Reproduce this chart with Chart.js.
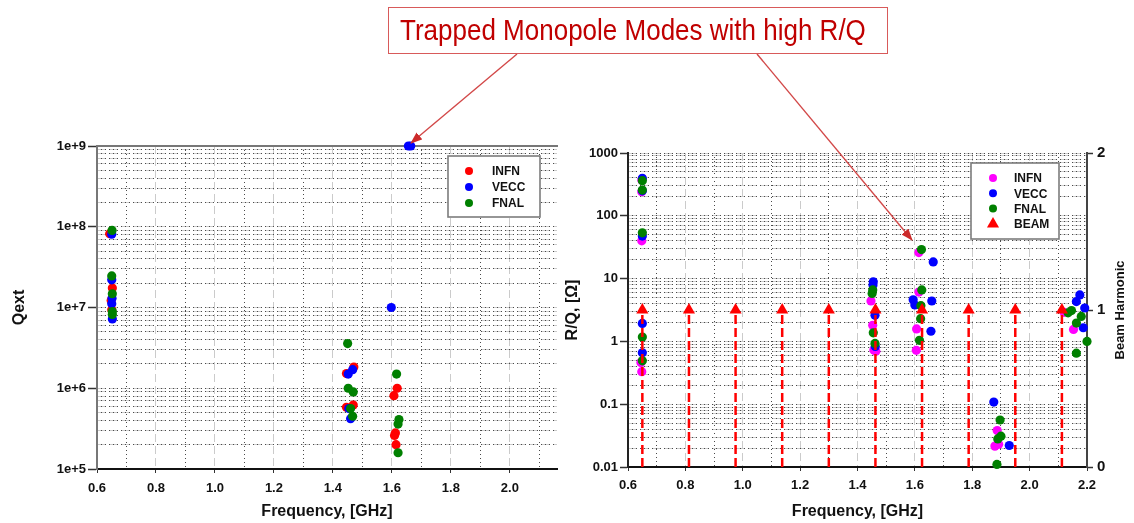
<!DOCTYPE html>
<html>
<head>
<meta charset="utf-8">
<script src="https://cdn.jsdelivr.net/npm/chart.js@4.4.1/dist/chart.umd.min.js"></script>
<style>
  html, body { margin: 0; padding: 0; background: #fff; }
  body { width: 1134px; height: 523px; position: relative; overflow: hidden;
         font-family: "Liberation Sans", Arial, sans-serif; }
  canvas { position: absolute; top: 0; }
  #qextChart { left: 0; }
  #rqChart { left: 555px; }
  .callout { position: absolute; left: 388px; top: 7px; width: 500px; height: 47px;
             box-sizing: border-box; border: 1.5px solid #d85a5a; background: #fff;
             color: #c00000; font-size: 26px; line-height: 44px; padding-left: 11px;
             white-space: nowrap; z-index: 3; }
  .callout span { display: inline-block; transform: scaleY(1.13); transform-origin: 50% 60%; }
  svg.arrows { position: absolute; left: 0; top: 0; z-index: 2; pointer-events: none; }
</style>
</head>
<body>
<canvas id="qextChart" width="575" height="523"></canvas>
<canvas id="rqChart" width="579" height="523"></canvas>
<div class="callout"><span>Trapped Monopole Modes with high R/Q</span></div>
<svg class="arrows" width="1134" height="523">
  <defs>
    <marker id="head" markerWidth="12" markerHeight="9" refX="11" refY="4.5" orient="auto" markerUnits="userSpaceOnUse">
      <path d="M0,0 L12,4.5 L0,9 z" fill="#cc2a2a"/>
    </marker>
  </defs>
  <line x1="517" y1="54" x2="411" y2="143" stroke="#d24848" stroke-width="1.4" marker-end="url(#head)"/>
  <line x1="757" y1="54" x2="912" y2="240" stroke="#d24848" stroke-width="1.4" marker-end="url(#head)"/>
</svg>
<script>
// ---- data: external Q (left panel) ----
const qextInfn = [
  [0.643, 8.2e7], [0.652, 1.74e7], [0.648, 1.22e7], [0.650, 9.4e6],
  [1.446, 1.52e6], [1.471, 1.83e6], [1.446, 5.8e5], [1.469, 6.2e5],
  [1.618, 1.0e6], [1.607, 8.1e5], [1.612, 2.8e5], [1.609, 2.6e5], [1.614, 2.0e5]
];
const qextVecc = [
  [0.650, 8.1e7], [0.650, 2.2e7], [0.651, 1.3e7], [0.650, 1.11e7], [0.652, 7.2e6],
  [1.452, 1.5e6], [1.467, 1.7e6], [1.454, 5.6e5], [1.460, 4.2e5],
  [1.598, 1.0e7], [1.656, 1.0e9], [1.664, 1.0e9]
];
const qextFnal = [
  [0.651, 9.0e7], [0.650, 2.46e7], [0.652, 1.48e7], [0.652, 8.9e6], [0.652, 8.2e6],
  [1.450, 3.57e6], [1.452, 1.0e6], [1.469, 9.0e5], [1.460, 5.6e5], [1.467, 4.5e5],
  [1.616, 1.5e6], [1.624, 4.1e5], [1.621, 3.6e5], [1.621, 1.59e5]
];

// ---- data: R/Q (right panel) ----
const rqInfn = [
  [0.648, 370], [0.648, 242], [0.648, 40], [0.645, 0.46], [0.648, 0.33],
  [1.447, 4.4], [1.453, 1.8], [1.457, 0.73], [1.464, 0.70],
  [1.614, 26], [1.614, 6.1], [1.606, 1.58], [1.605, 0.72],
  [1.887, 0.038], [1.879, 0.0215], [1.892, 0.023],
  [2.120, 2.9], [2.153, 1.55]
];
const rqVecc = [
  [0.650, 395], [0.650, 250], [0.650, 47.6], [0.650, 1.93], [0.650, 0.66],
  [1.455, 8.9], [1.454, 7.9], [1.461, 2.6], [1.462, 0.83],
  [1.664, 18.4], [1.594, 4.6], [1.600, 3.8], [1.659, 4.4], [1.656, 1.45],
  [1.875, 0.108], [1.929, 0.022],
  [2.175, 5.5], [2.163, 4.3], [2.192, 3.4], [2.187, 1.65]
];
const rqFnal = [
  [0.650, 362], [0.650, 257], [0.650, 53.6], [0.650, 1.17], [0.650, 0.49],
  [1.453, 6.6], [1.451, 5.8], [1.455, 1.37], [1.461, 0.93],
  [1.623, 29], [1.624, 6.6], [1.621, 3.7], [1.620, 2.3], [1.616, 1.04],
  [1.897, 0.056], [1.900, 0.031], [1.889, 0.028], [1.886, 0.011],
  [2.146, 3.1], [2.134, 2.85], [2.180, 2.5], [2.163, 1.96], [2.200, 1.0], [2.163, 0.65]
];

// beam harmonics (GHz) and their harmonic marker height
const beamFreq = [0.65, 0.8125, 0.975, 1.1375, 1.3, 1.4625, 1.625, 1.7875, 1.95, 2.1125];
const beamHarmonic = [1, 1, 1, 1, 1, 1, 1, 1, 1, 1];

// ---- axis ticks ----
const freqTicksLeft = [0.6, 0.8, 1.0, 1.2, 1.4, 1.6, 1.8, 2.0];
const freqTicksRight = [0.6, 0.8, 1.0, 1.2, 1.4, 1.6, 1.8, 2.0, 2.2];
const freqMinor = [0.7, 0.9, 1.1, 1.3, 1.5, 1.7, 1.9, 2.1];
const qextDecades = [1e5, 1e6, 1e7, 1e8, 1e9];
const qextTickLabels = ['1e+5', '1e+6', '1e+7', '1e+8', '1e+9'];
const rqDecades = [0.01, 0.1, 1, 10, 100, 1000];
const rqTickLabels = ['0.01', '0.1', '1', '10', '100', '1000'];
const harmonicTicks = [0, 1, 2];

const FONT = '"Liberation Sans", Arial, sans-serif';
Chart.defaults.font.family = FONT;
Chart.defaults.font.weight = 'bold';
Chart.defaults.color = '#111';

const tickFont = { size: 13, weight: 'bold' };
const titleFont = { size: 16, weight: 'bold' };
const GRID_GRAY = '#cbcbcb';
const GRID_DOT = '#4a4a4a';
const POINT_R = 4.6;

const toXY = pairs => pairs.map(([x, y]) => ({ x, y }));

// every 1..9 step inside the given decades
function logSteps(decades) {
  const out = [];
  decades.forEach((d, i) => {
    if (i === decades.length - 1) { out.push({ value: d }); return; }
    for (let m = 1; m < 10; m++) out.push({ value: +(d * m).toPrecision(4) });
  });
  return out;
}
function decadeIndex(decades, v) {
  return decades.findIndex(d => Math.abs(d - v) / d < 1e-6);
}

// second, invisible axis that only contributes dotted grid lines
function dottedAxis(base, position, values, isX) {
  return Object.assign({}, base, {
    position,
    display: true,
    afterBuildTicks: s => { s.ticks = values.map(v => (typeof v === 'object' ? v : { value: v })); },
    afterFit: s => { if (isX) s.height = 0; else s.width = 0; },
    ticks: { display: false },
    title: { display: false },
    grid: { color: GRID_DOT, lineWidth: 1, drawTicks: false },
    border: { display: false, dash: [1, 3] }
  });
}

function scatterSet(label, pairs, color, order, axis) {
  return {
    label, data: toXY(pairs), backgroundColor: color, borderColor: color,
    pointRadius: POINT_R, pointBorderWidth: 0, order, clip: false,
    yAxisID: axis
  };
}

// boxed legend drawn inside the plot
const boxLegend = {
  id: 'boxLegend',
  afterDatasetsDraw(chart, args, o) {
    const ctx = chart.ctx;
    ctx.save();
    ctx.fillStyle = '#fff';
    ctx.fillRect(o.x, o.y, o.w, o.h);
    ctx.strokeStyle = '#7c7c7c';
    ctx.lineWidth = 1.6;
    ctx.strokeRect(o.x, o.y, o.w, o.h);
    ctx.font = 'bold 12px ' + FONT;
    ctx.textBaseline = 'middle';
    let row = 0;
    chart.data.datasets.forEach(ds => {
      if (ds.noLegend) return;
      const cy = o.y + o.firstRow + row * o.rowGap;
      const cx = o.x + o.markerX;
      ctx.fillStyle = ds.backgroundColor;
      ctx.beginPath();
      if (ds.pointStyle === 'triangle') {
        const r = ds.pointRadius;
        ctx.moveTo(cx, cy - r);
        ctx.lineTo(cx + r * 0.866, cy + r * 0.5);
        ctx.lineTo(cx - r * 0.866, cy + r * 0.5);
        ctx.closePath();
      } else {
        ctx.arc(cx, cy, 4, 0, Math.PI * 2);
      }
      ctx.fill();
      ctx.fillStyle = '#111';
      ctx.fillText(ds.label, o.x + o.textX, cy + 1);
      row++;
    });
    ctx.restore();
  }
};

// right-hand axis title, read bottom to top
const harmonicTitle = {
  id: 'harmonicTitle',
  afterDraw(chart) {
    const s = chart.scales.yb;
    const ctx = chart.ctx;
    ctx.save();
    ctx.translate(s.right - 14, (s.top + s.bottom) / 2);
    ctx.rotate(-Math.PI / 2);
    ctx.font = 'bold 13px ' + FONT;
    ctx.fillStyle = '#111';
    ctx.textAlign = 'center';
    ctx.textBaseline = 'middle';
    ctx.fillText('Beam Harmonic', 0, 0);
    ctx.restore();
  }
};

// ---------------- left panel: Qext ----------------
const xLeft = { type: 'linear', min: 0.6, max: 2.16 };
const yLeft = { type: 'logarithmic', min: 1e5, max: 1e9 };

new Chart(document.getElementById('qextChart'), {
  type: 'scatter',
  data: {
    datasets: [
      scatterSet('INFN', qextInfn, '#ff0000', 3, 'y'),
      scatterSet('VECC', qextVecc, '#0000ff', 2, 'y'),
      scatterSet('FNAL', qextFnal, '#008000', 1, 'y')
    ]
  },
  options: {
    responsive: false,
    animation: false,
    events: [],
    layout: { padding: { top: 146, right: 18, bottom: 0, left: 0 } },
    plugins: {
      legend: { display: false },
      tooltip: { enabled: false },
      boxLegend: { x: 448, y: 156, w: 92, h: 61, markerX: 21, textX: 44, firstRow: 15, rowGap: 16 }
    },
    scales: {
      x: Object.assign({}, xLeft, {
        position: 'bottom',
        afterBuildTicks: s => { s.ticks = freqTicksLeft.map(v => ({ value: v })); },
        afterFit: s => { s.height = 54; },
        ticks: { autoSkip: false, maxRotation: 0, padding: 8, font: tickFont, callback: v => v.toFixed(1) },
        grid: { color: GRID_GRAY, lineWidth: 1, tickLength: 4, tickColor: '#333' },
        border: { display: true, color: '#111', width: 2, dash: [8, 4] },
        title: { display: true, text: 'Frequency, [GHz]', font: titleFont, padding: { top: 0, bottom: 1.4 } }
      }),
      xDot: dottedAxis(xLeft, 'bottom', freqMinor, true),
      xTop: Object.assign({}, xLeft, {
        position: 'top', display: true,
        afterFit: s => { s.height = 0; },
        ticks: { display: false },
        grid: { display: false },
        border: { display: true, color: '#777', width: 2 }
      }),
      y: Object.assign({}, yLeft, {
        position: 'left',
        afterBuildTicks: s => { s.ticks = logSteps(qextDecades); },
        afterFit: s => { s.width = 97; },
        ticks: {
          autoSkip: false, padding: 2, font: tickFont,
          callback: v => { const i = decadeIndex(qextDecades, v); return i < 0 ? '' : qextTickLabels[i]; }
        },
        grid: {
          color: GRID_GRAY, lineWidth: 1, tickLength: 9, tickWidth: 1.5,
          tickColor: c => (c.tick && decadeIndex(qextDecades, c.tick.value) >= 0 ? '#333' : 'rgba(0,0,0,0)')
        },
        border: { display: true, color: '#777', width: 2, dash: [8, 4] },
        title: { display: true, text: 'Qext', font: titleFont, padding: { top: 9.5, bottom: 0 } }
      }),
      yDot: dottedAxis(yLeft, 'left', logSteps(qextDecades), false)
    }
  },
  plugins: [boxLegend]
});

// ---------------- right panel: R/Q ----------------
const xRight = { type: 'linear', min: 0.6, max: 2.2 };
const yRight = { type: 'logarithmic', min: 0.01, max: 1000 };

const beamLine = [];
beamFreq.forEach((f, i) => {
  beamLine.push({ x: f, y: 0 }, { x: f, y: beamHarmonic[i] }, { x: f, y: null });
});

new Chart(document.getElementById('rqChart'), {
  type: 'scatter',
  data: {
    datasets: [
      scatterSet('INFN', rqInfn, '#ff00ff', 3, 'y'),
      scatterSet('VECC', rqVecc, '#0000ff', 2, 'y'),
      scatterSet('FNAL', rqFnal, '#008000', 1, 'y'),
      {
        label: 'BEAM', data: beamFreq.map((f, i) => ({ x: f, y: beamHarmonic[i] })),
        pointStyle: 'triangle', pointRadius: 7, pointBorderWidth: 0,
        backgroundColor: '#ff0000', borderColor: '#ff0000', yAxisID: 'yb', order: 0, clip: false
      },
      {
        type: 'line', label: 'BEAM', noLegend: true, data: beamLine,
        borderColor: '#ff0000', borderWidth: 2.5, borderDash: [9, 4], pointRadius: 0,
        spanGaps: false, fill: false, yAxisID: 'yb', order: 0, clip: false
      }
    ]
  },
  options: {
    responsive: false,
    animation: false,
    events: [],
    layout: { padding: { top: 153, right: 0, bottom: 0, left: 0 } },
    plugins: {
      legend: { display: false },
      tooltip: { enabled: false },
      boxLegend: { x: 416, y: 163, w: 88, h: 76, markerX: 22, textX: 43, firstRow: 15, rowGap: 15.3 }
    },
    scales: {
      x: Object.assign({}, xRight, {
        position: 'bottom',
        afterBuildTicks: s => { s.ticks = freqTicksRight.map(v => ({ value: v })); },
        afterFit: s => { s.height = 56; },
        ticks: { autoSkip: false, maxRotation: 0, padding: 7, font: tickFont, callback: v => v.toFixed(1) },
        grid: { color: GRID_GRAY, lineWidth: 1, tickLength: 4, tickColor: '#333' },
        border: { display: true, color: '#111', width: 2, dash: [8, 4] },
        title: { display: true, text: 'Frequency, [GHz]', font: titleFont, padding: { top: 0, bottom: 1.4 } }
      }),
      xDot: dottedAxis(xRight, 'bottom', freqMinor, true),
      y: Object.assign({}, yRight, {
        position: 'left',
        afterBuildTicks: s => { s.ticks = logSteps(rqDecades); },
        afterFit: s => { s.width = 73; },
        ticks: {
          autoSkip: false, padding: 2, font: tickFont,
          callback: v => { const i = decadeIndex(rqDecades, v); return i < 0 ? '' : rqTickLabels[i]; }
        },
        grid: {
          color: GRID_GRAY, lineWidth: 1, tickLength: 8, tickWidth: 1.5,
          tickColor: c => (c.tick && decadeIndex(rqDecades, c.tick.value) >= 0 ? '#333' : 'rgba(0,0,0,0)')
        },
        border: { display: true, color: '#222', width: 2, dash: [8, 4] },
        title: { display: true, text: 'R/Q, [Ω]', font: titleFont, padding: { top: 7.5, bottom: 0 } }
      }),
      yDot: dottedAxis(yRight, 'left', logSteps(rqDecades), false),
      yb: {
        type: 'linear', position: 'right', min: 0, max: 2,
        afterBuildTicks: s => { s.ticks = harmonicTicks.map(v => ({ value: v })); },
        afterFit: s => { s.width = 47; },
        ticks: { autoSkip: false, padding: 4, font: { size: 15, weight: 'bold' } },
        grid: { drawOnChartArea: false, tickLength: 6, tickWidth: 1.5, tickColor: '#333' },
        border: { display: true, color: '#444', width: 2 }
      }
    }
  },
  plugins: [boxLegend, harmonicTitle]
});
</script>
</body>
</html>
